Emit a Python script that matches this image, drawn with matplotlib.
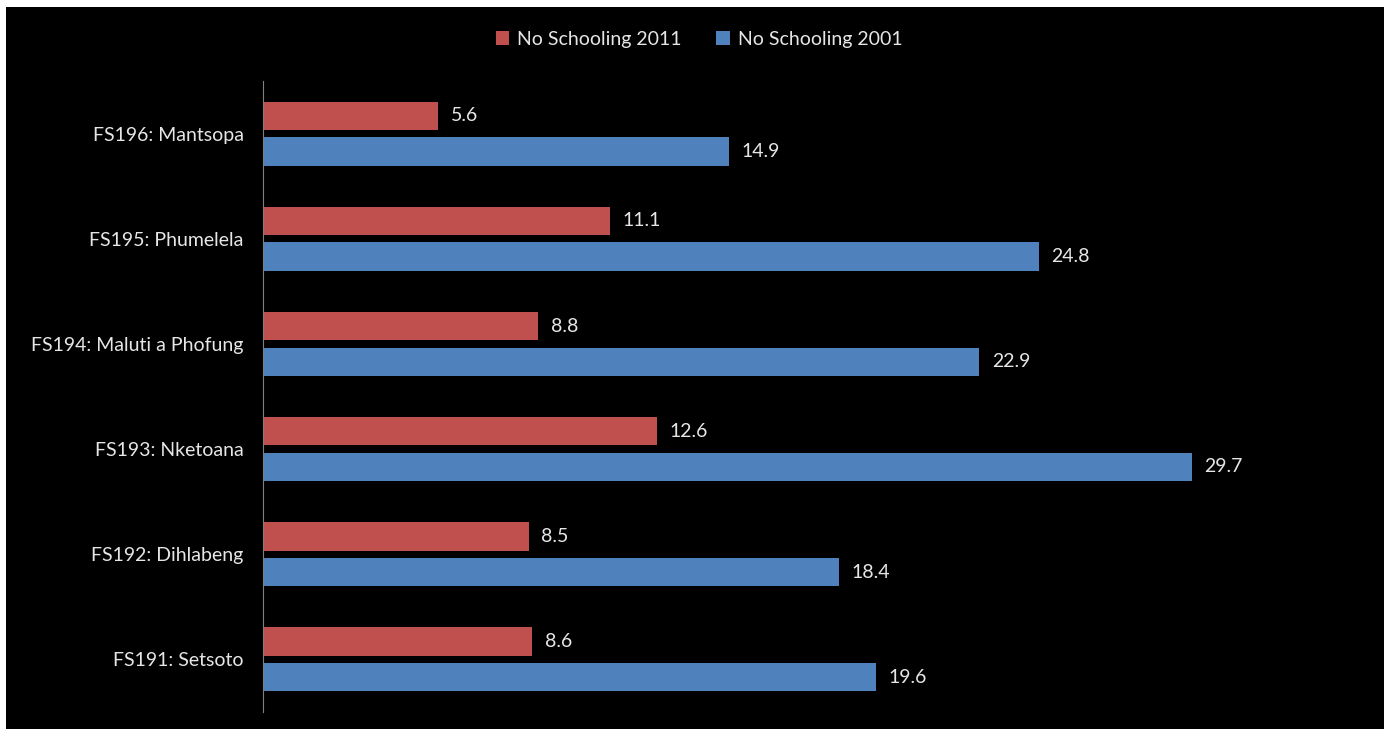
import numpy as np
import matplotlib.pyplot as plt
from matplotlib.patches import Rectangle

# municipalities, listed top to bottom
municipalities = ['FS196: Mantsopa', 'FS195: Phumelela', 'FS194: Maluti a Phofung',
                  'FS193: Nketoana', 'FS192: Dihlabeng', 'FS191: Setsoto']
no_school_2011 = [5.6, 11.1, 8.8, 12.6, 8.5, 8.6]
no_school_2001 = [14.9, 24.8, 22.9, 29.7, 18.4, 19.6]

RED = '#C0504D'
BLUE = '#4F81BD'
TXT = '#E6E6E6'
FS = 14
plt.rcParams['font.family'] = ['Lato', 'DejaVu Sans']

W, H = 1391, 729
fig = plt.figure(figsize=(W / 100, H / 100), dpi=100, facecolor='white')
# black panel inside a thin white margin
fig.patches.append(Rectangle((6 / W, 0), (1384 - 6) / W, (H - 7) / H,
                             transform=fig.transFigure, facecolor='black',
                             edgecolor='none', zorder=-1))

ax = fig.add_axes([263 / W, (H - 712) / H, (1290 - 263) / W, (712 - 81) / H])
ax.set_facecolor('none')

y = np.arange(len(municipalities))
h = 0.27
off = 0.17
b1 = ax.barh(y - off, no_school_2011, height=h, color=RED, label='No Schooling 2011')
b2 = ax.barh(y + off, no_school_2001, height=h, color=BLUE, label='No Schooling 2001')

for bars, vals in ((b1, no_school_2011), (b2, no_school_2001)):
    for bar, v in zip(bars, vals):
        ax.text(v + 0.4, bar.get_y() + bar.get_height() / 2, f'{v:.1f}',
                va='center', ha='left', color=TXT, fontsize=FS)

ax.set_xlim(0, (1290 - 263) / 31.28)
ax.set_ylim(len(municipalities) - 0.5, -0.5)
ax.set_yticks(y)
ax.set_yticklabels(municipalities, color=TXT, fontsize=FS)
ax.tick_params(axis='y', length=0, pad=14)
ax.set_xticks([])
for s in ('top', 'right', 'bottom'):
    ax.spines[s].set_visible(False)
ax.spines['left'].set_color('#808080')

leg = fig.legend(handles=[b1, b2], loc='center', bbox_to_anchor=(699 / W, (H - 39) / H),
                 ncol=2, frameon=False, fontsize=FS, handlelength=0.7,
                 handleheight=0.7, handletextpad=0.4, columnspacing=1.8)
for t in leg.get_texts():
    t.set_color(TXT)

fig.savefig('out.png', dpi=100, facecolor='white')
